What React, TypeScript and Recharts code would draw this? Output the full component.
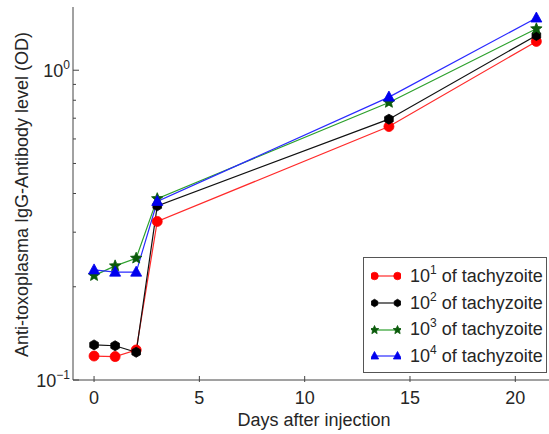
import React from 'react'
import { Line, LineChart, XAxis, YAxis } from 'recharts'

const days = [0, 1, 2, 3, 14, 21]
const dose1 = [0.1195, 0.119, 0.125, 0.325, 0.658, 1.239]
const dose2 = [0.1298, 0.129, 0.1229, 0.365, 0.695, 1.295]
const dose3 = [0.2173, 0.2336, 0.2473, 0.385, 0.787, 1.361]
const dose4 = [0.2267, 0.2229, 0.2229, 0.377, 0.819, 1.474]

const xTicks = [0, 5, 10, 15, 20]
const yTicks = [0.1, 0.2, 0.3, 0.4, 0.5, 0.6, 0.7, 0.8, 0.9, 1]
const yMajor: Record<number, string> = { 0.1: '\u22121', 1: '0' }

const seriesInfo = [
  { key: 'd1', exp: '1', color: '#ff2a2a', fill: '#ff0000', marker: 'circle' },
  { key: 'd2', exp: '2', color: '#111111', fill: '#000000', marker: 'hexagon' },
  { key: 'd3', exp: '3', color: '#2ca02c', fill: '#0a5a0a', marker: 'star' },
  { key: 'd4', exp: '4', color: '#2a2aff', fill: '#0000ee', marker: 'triangle' },
]

const data = days.map((d, i) => ({ day: d, d1: dose1[i], d2: dose2[i], d3: dose3[i], d4: dose4[i] }))

const FONT = '"Liberation Sans", Arial, sans-serif'
const TEXT = '#262626'
const AXIS = '#444'

function polygon(cx: number, cy: number, r: number, n: number, rot: number) {
  const pts: string[] = []
  for (let i = 0; i < n; i++) {
    const a = rot + (i * 2 * Math.PI) / n
    pts.push(`${cx + r * Math.cos(a)},${cy + r * Math.sin(a)}`)
  }
  return pts.join(' ')
}

function star(cx: number, cy: number, r: number) {
  const pts: string[] = []
  for (let i = 0; i < 10; i++) {
    const a = -Math.PI / 2 + (i * Math.PI) / 5
    const rr = i % 2 === 0 ? r : r * 0.45
    pts.push(`${cx + rr * Math.cos(a)},${cy + rr * Math.sin(a)}`)
  }
  return pts.join(' ')
}

function Marker({ kind, cx, cy, fill, stroke, size = 1 }: any) {
  if (cx == null || cy == null) return null
  if (kind === 'circle') return <circle cx={cx} cy={cy} r={5 * size} fill={fill} stroke={stroke} strokeWidth={0.8} />
  if (kind === 'hexagon')
    return <polygon points={polygon(cx, cy, 5 * size, 6, Math.PI / 2)} fill={fill} stroke={stroke} strokeWidth={0.8} />
  if (kind === 'star') return <polygon points={star(cx, cy, 6 * size)} fill={fill} stroke={stroke} strokeWidth={0.8} />
  return (
    <polygon
      points={`${cx},${cy - 6 * size} ${cx - 5.5 * size},${cy + 4 * size} ${cx + 5.5 * size},${cy + 4 * size}`}
      fill={fill}
      stroke={stroke}
      strokeWidth={0.8}
    />
  )
}

function BottomTick({ x, y, payload }: any) {
  return (
    <g>
      <line x1={x} y1={y} x2={x} y2={y - 6} stroke={AXIS} />
      <text x={x} y={y + 22} textAnchor="middle" fontSize={18} fill={TEXT} fontFamily={FONT}>
        {payload.value}
      </text>
    </g>
  )
}

function TopTick({ x, y }: any) {
  return <line x1={x} y1={y} x2={x} y2={y + 6} stroke={AXIS} />
}

function LeftTick({ x, y, payload }: any) {
  const v = Math.round(payload.value * 10) / 10
  const exp = yMajor[v]
  return (
    <g>
      <line x1={x} y1={y} x2={x + (exp ? 6 : 3)} y2={y} stroke={AXIS} />
      {exp && (
        <text x={x - 3} y={y + 6.5} textAnchor="end" fontSize={18} fill={TEXT} fontFamily={FONT}>
          10
          <tspan dy={-8} fontSize={12}>
            {exp}
          </tspan>
        </text>
      )}
    </g>
  )
}

function XLabel({ viewBox }: any) {
  return (
    <text x={viewBox.x + viewBox.width / 2 + 3} y={viewBox.y + 46} textAnchor="middle" fontSize={18} fill={TEXT} fontFamily={FONT}>
      Days after injection
    </text>
  )
}

function YLabel({ viewBox }: any) {
  const cy = viewBox.y + viewBox.height / 2 + 1
  return (
    <text
      x={28}
      y={cy}
      transform={`rotate(-90 28 ${cy})`}
      textAnchor="middle"
      fontSize={18}
      fill={TEXT}
      fontFamily={FONT}
    >
      Anti-toxoplasma IgG-Antibody level (OD)
    </text>
  )
}

function LegendBox() {
  return (
    <div
      style={{
        position: 'absolute',
        left: 363,
        top: 257,
        width: 184,
        height: 116,
        border: '1px solid #555',
        background: '#fff',
        padding: '5px 0 0 7px',
        fontFamily: FONT,
        fontSize: 18,
        color: TEXT,
        boxSizing: 'border-box',
      }}
    >
      {seriesInfo.map(s => (
        <div key={s.key} style={{ display: 'flex', alignItems: 'center', height: 26.7, whiteSpace: 'nowrap' }}>
          <svg width={30} height={14} style={{ marginRight: 9, flex: 'none' }}>
            <line x1={3} y1={7} x2={27} y2={7} stroke={s.color} strokeWidth={1.2} />
            <Marker kind={s.marker} cx={3.5} cy={7} fill={s.fill} stroke={s.fill} size={0.75} />
            <Marker kind={s.marker} cx={26.5} cy={7} fill={s.fill} stroke={s.fill} size={0.75} />
          </svg>
          <span>
            10<sup style={{ fontSize: 12, verticalAlign: 8, lineHeight: 0 }}>{s.exp}</sup> of tachyzoite
          </span>
        </div>
      ))}
    </div>
  )
}

export default function App() {
  return (
    <div style={{ position: 'absolute', left: 0, top: 0, width: 549, height: 434, background: '#fff' }}>
      <LineChart width={549} height={434} data={data} margin={{ top: 7, right: 0, left: 0, bottom: 0 }}>
        <XAxis
          dataKey="day"
          type="number"
          domain={[-1, 21.6]}
          ticks={xTicks}
          allowDataOverflow
          height={54}
          stroke={AXIS}
          tickLine={false}
          tickSize={0}
          tick={<BottomTick />}
          label={<XLabel />}
        />
        <XAxis
          xAxisId="top"
          orientation="top"
          dataKey="day"
          type="number"
          domain={[-1, 21.6]}
          ticks={xTicks}
          allowDataOverflow
          height={0}
          stroke={AXIS}
          tickLine={false}
          tickSize={0}
          tick={<TopTick />}
        />
        <YAxis
          type="number"
          scale="log"
          domain={[0.1, 1.6]}
          ticks={yTicks}
          allowDataOverflow
          width={73}
          stroke={AXIS}
          tickLine={false}
          tickSize={0}
          tickMargin={0}
          interval={0}
          tick={<LeftTick />}
          label={<YLabel />}
        />
        {seriesInfo.map(s => (
          <Line
            key={s.key}
            dataKey={s.key}
            stroke={s.color}
            strokeWidth={1.2}
            isAnimationActive={false}
            dot={(p: any) => <Marker key={p.index} kind={s.marker} cx={p.cx} cy={p.cy} fill={s.fill} stroke={s.fill} />}
            activeDot={false}
          />
        ))}
      </LineChart>
      <LegendBox />
    </div>
  )
}
